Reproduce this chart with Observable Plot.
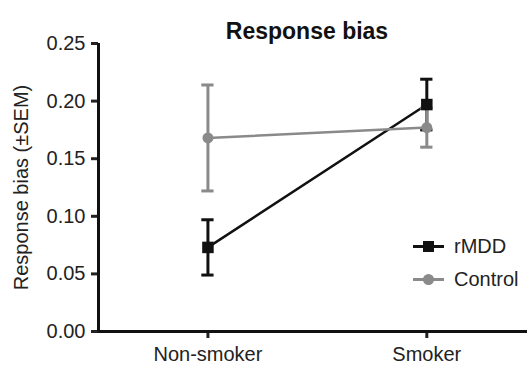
<!DOCTYPE html>
<html>
<head>
<meta charset="utf-8">
<script src="https://cdn.jsdelivr.net/npm/d3@7"></script>
<script src="https://cdn.jsdelivr.net/npm/@observablehq/plot@0.6"></script>
<style>
  html, body { margin: 0; padding: 0; background: #fff; }
  #wrap { position: relative; width: 527px; height: 371px; font-family: "Liberation Sans", Arial, sans-serif; }
  #legend { position: absolute; left: 413px; top: 230px; font-size: 20px; color: #222; }
  #legend .row { display: flex; align-items: center; height: 33px; }
  #legend svg { margin-right: 10px; }
</style>
</head>
<body>
<div id="wrap"></div>
<script>
const groups = ["Non-smoker", "Smoker"];
const rmddMean = [0.073, 0.197];
const rmddSem = [0.024, 0.022];
const controlMean = [0.168, 0.177];
const controlSem = [0.046, 0.017];
const yTicks = [0, 0.05, 0.10, 0.15, 0.20, 0.25];
const seriesNames = ["rMDD", "Control"];
const seriesColors = ["#111111", "#8a8a8a"];

const rmdd = groups.map((g, i) => ({i, g, m: rmddMean[i], lo: rmddMean[i] - rmddSem[i], hi: rmddMean[i] + rmddSem[i]}));
const control = groups.map((g, i) => ({i, g, m: controlMean[i], lo: controlMean[i] - controlSem[i], hi: controlMean[i] + controlSem[i]}));
const cap = 0.028;

function errMarks(data, color) {
  return [
    Plot.ruleX(data, {x: "i", y1: "lo", y2: "hi", stroke: color, strokeWidth: 3}),
    Plot.ruleY(data, {y: "hi", x1: d => d.i - cap, x2: d => d.i + cap, stroke: color, strokeWidth: 3}),
    Plot.ruleY(data, {y: "lo", x1: d => d.i - cap, x2: d => d.i + cap, stroke: color, strokeWidth: 3})
  ];
}

const chart = Plot.plot({
  width: 527,
  height: 371,
  marginLeft: 98,
  marginRight: 0,
  marginTop: 43,
  marginBottom: 40,
  style: {fontFamily: "Liberation Sans, Arial, sans-serif", fontSize: "20px", color: "#222", background: "#fff"},
  x: {domain: [-0.5, 1.46], axis: null},
  y: {domain: [0, 0.25], axis: null},
  marks: [
    Plot.axisY({ticks: yTicks, tickFormat: d3.format(".2f"), tickSize: 7, tickPadding: 6, strokeWidth: 3, fontSize: 20, label: null}),
    Plot.axisX({ticks: [0, 1], tickFormat: i => groups[i], tickSize: 7, tickPadding: 8, strokeWidth: 3, fontSize: 20, label: null}),
    Plot.ruleX([-0.5], {stroke: "#111", strokeWidth: 3}),
    Plot.ruleY([0], {stroke: "#111", strokeWidth: 3}),
    Plot.line(rmdd, {x: "i", y: "m", stroke: seriesColors[0], strokeWidth: 2.5}),
    ...errMarks(rmdd, seriesColors[0]),
    Plot.line(control, {x: "i", y: "m", stroke: seriesColors[1], strokeWidth: 2.5}),
    ...errMarks(control, seriesColors[1]),
    Plot.dot(control, {x: "i", y: "m", fill: seriesColors[1], r: 5.5, symbol: "circle"}),
    Plot.dot(rmdd, {x: "i", y: "m", fill: seriesColors[0], r: 6.5, symbol: "square"}),
    Plot.text(["Response bias"], {frameAnchor: "top", dy: -21, dx: -6, fontSize: 23, fontWeight: "bold", fill: "#111"}),
    Plot.text(["Response bias (±SEM)"], {frameAnchor: "left", dx: -77, rotate: -90, textAnchor: "middle", fontSize: 20, fill: "#222"})
  ]
});
document.getElementById("wrap").appendChild(chart);

const legend = document.createElement("div");
legend.id = "legend";
seriesNames.forEach((name, k) => {
  const row = document.createElement("div");
  row.className = "row";
  const sym = k === 0
    ? `<rect x="10" y="5" width="11" height="11" fill="${seriesColors[k]}"/>`
    : `<circle cx="15.5" cy="10.5" r="5.5" fill="${seriesColors[k]}"/>`;
  row.innerHTML = `<svg width="31" height="21"><line x1="0" x2="31" y1="10.5" y2="10.5" stroke="${seriesColors[k]}" stroke-width="3"/>${sym}</svg><span>${name}</span>`;
  legend.appendChild(row);
});
document.getElementById("wrap").appendChild(legend);
</script>
</body>
</html>
